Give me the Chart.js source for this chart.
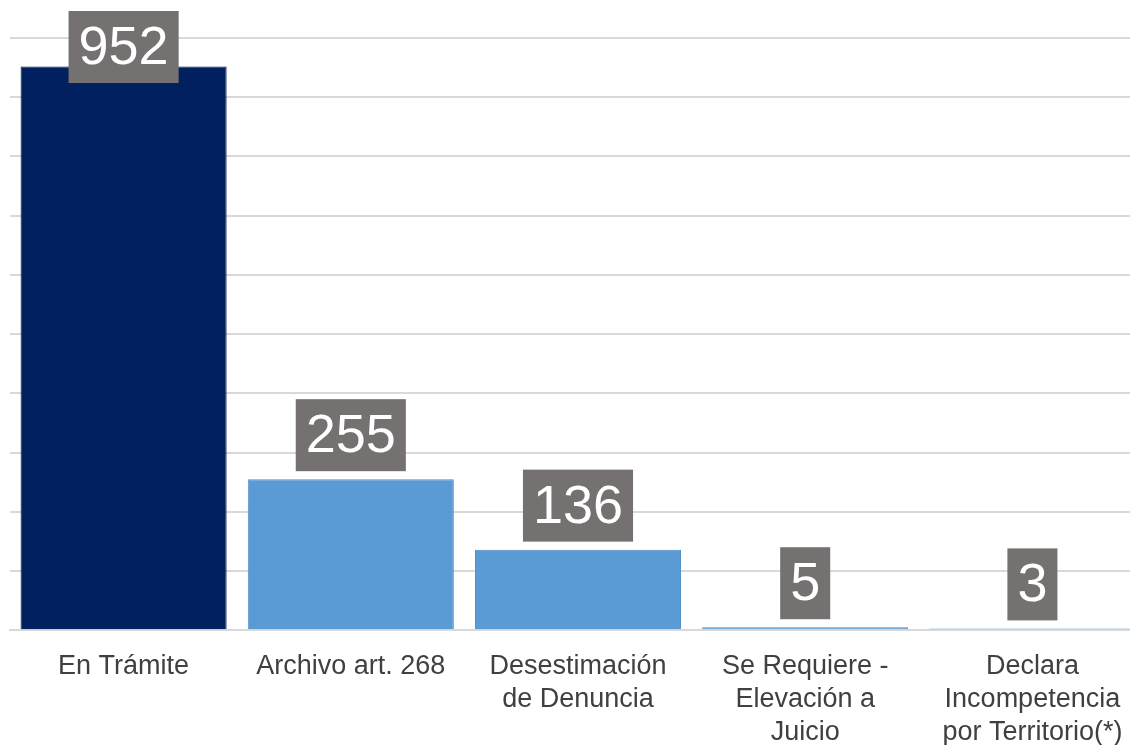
<!DOCTYPE html>
<html>
<head>
<meta charset="utf-8">
<script src="https://cdn.jsdelivr.net/npm/chart.js@4"></script>
<style>
  html, body { margin: 0; padding: 0; background: #fff; overflow: hidden; }
  #wrap { width: 1146px; height: 745px; position: relative; }
</style>
</head>
<body>
<div id="wrap"><canvas id="chart"></canvas></div>
<script>
const categories = [
  "En Trámite",
  "Archivo art. 268",
  ["Desestimación", "de Denuncia"],
  ["Se Requiere -", "Elevación a", "Juicio"],
  ["Declara", "Incompetencia", "por Territorio(*)"]
];
const values = [952, 255, 136, 5, 3];
const barColors = ["#002060", "#5B9BD5", "#5B9BD5", "#5B9BD5", "#5B9BD5"];
const borderColors = ["#001540", "#4F8CC5", "#4F8CC5", "#4F8CC5", "#4F8CC5"];

// value boxes drawn above each bar (grey box, white number)
const valueBoxes = {
  id: "valueBoxes",
  afterDatasetsDraw(chart) {
    const ctx = chart.ctx;
    const meta = chart.getDatasetMeta(0);
    ctx.save();
    ctx.font = "54px 'Liberation Sans', Arial, sans-serif";
    ctx.textAlign = "center";
    ctx.textBaseline = "middle";
    meta.data.forEach((bar, i) => {
      const txt = String(values[i]);
      const w = ctx.measureText(txt).width + 20;
      const h = 72;
      let bottom = bar.y - 8;
      let top = bottom - h;
      if (top < 11) top = 11;
      ctx.fillStyle = "#767171";
      ctx.fillRect(bar.x - w / 2, top, w, h);
      ctx.fillStyle = "#ffffff";
      ctx.fillText(txt, bar.x, top + h / 2 + 2);
    });
    ctx.restore();
  }
};

new Chart(document.getElementById("chart"), {
  type: "bar",
  data: {
    labels: categories,
    datasets: [{
      data: values,
      backgroundColor: barColors,
      borderColor: borderColors,
      borderWidth: 1,
      barPercentage: 0.907,
      categoryPercentage: 1
    }]
  },
  options: {
    responsive: true,
    maintainAspectRatio: false,
    animation: false,
    layout: { padding: { left: 10, top: 38, right: 0, bottom: -16 } },
    plugins: { legend: { display: false }, tooltip: { enabled: false } },
    scales: {
      x: {
        grid: { display: false },
        border: { color: "#D9D9D9", width: 2 },
        ticks: {
          color: "#404040",
          font: { family: "'Liberation Sans', Arial, sans-serif", size: 27, lineHeight: 1.22 },
          padding: 12,
          maxRotation: 0,
          autoSkip: false
        }
      },
      y: {
        min: 0,
        max: 1000,
        ticks: { display: false, stepSize: 100 },
        grid: { color: "#D9D9D9", lineWidth: 2, drawTicks: false },
        border: { display: false }
      }
    }
  },
  plugins: [valueBoxes]
});
</script>
</body>
</html>
